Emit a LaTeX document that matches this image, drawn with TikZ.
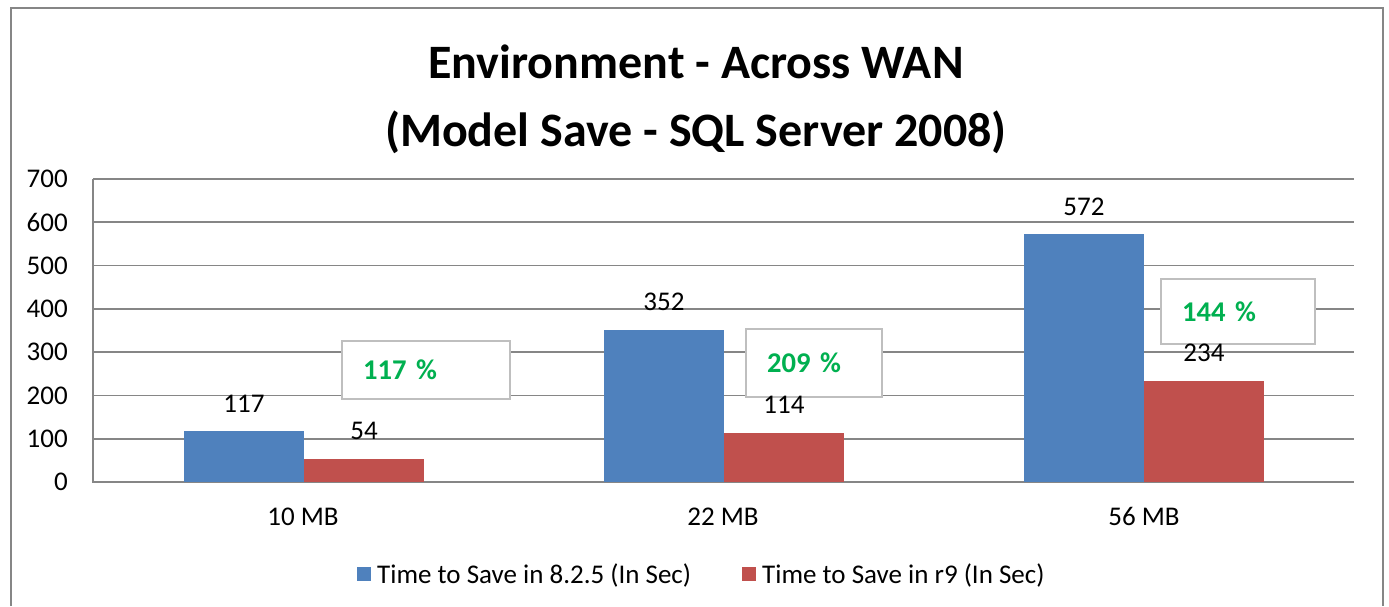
\documentclass[tikz,border=0pt]{standalone}
\usepackage{fontspec}
\setmainfont{Carlito}
\def\ppx{0.43286}
\begin{document}
\begin{tikzpicture}[x=1pt,y=-1pt,
  grid/.style={draw=gridgray,line width=1.6pt},
  vlabel/.style={anchor=base,inner sep=0pt,font=\fontsize{27}{32}\selectfont},
  tlabel/.style={anchor=east,inner sep=0pt,font=\fontsize{27}{32}\selectfont},
  pctbox/.style={anchor=north west,draw=boxgray,line width=2pt,fill=white,
    inner xsep=21pt,inner ysep=0pt,align=left,text=pctgreen,
    font=\bfseries\fontsize{28.6}{34}\selectfont},
  ttl/.style={anchor=base,inner sep=0pt,font=\bfseries\fontsize{48}{57}\selectfont}]
\definecolor{gridgray}{HTML}{868686}
\definecolor{boxgray}{HTML}{BFBFBF}
\definecolor{oldbar}{HTML}{4F81BD}
\definecolor{newbar}{HTML}{C0504D}
\definecolor{pctgreen}{HTML}{00B050}
\useasboundingbox (0,0) rectangle (1389,606);
% chart frame
\draw[gridgray,line width=2.5pt] (11,606) -- (11,8) -- (1383,8) -- (1383,606);
% title
\node[ttl] (title1) at (696,78) {Environment - Across WAN};
\node[ttl] (title2) at (696,146) {(Model Save - SQL Server 2008)};
% gridlines
\draw[grid] (93,{482-100*\ppx}) -- (1354,{482-100*\ppx});
\draw[grid] (93,{482-200*\ppx}) -- (1354,{482-200*\ppx});
\draw[grid] (93,{482-300*\ppx}) -- (1354,{482-300*\ppx});
\draw[grid] (93,{482-400*\ppx}) -- (1354,{482-400*\ppx});
\draw[grid] (93,{482-500*\ppx}) -- (1354,{482-500*\ppx});
\draw[grid] (93,{482-600*\ppx}) -- (1354,{482-600*\ppx});
\draw[grid] (93,{482-700*\ppx}) -- (1354,{482-700*\ppx});
\draw[grid] (93,{482-700*\ppx}) -- (93,482) -- (1354,482);
% y axis labels
\node[tlabel] (y0) at (68,482) {0};
\node[tlabel] (y100) at (68,{482-100*\ppx}) {100};
\node[tlabel] (y200) at (68,{482-200*\ppx}) {200};
\node[tlabel] (y300) at (68,{482-300*\ppx}) {300};
\node[tlabel] (y400) at (68,{482-400*\ppx}) {400};
\node[tlabel] (y500) at (68,{482-500*\ppx}) {500};
\node[tlabel] (y600) at (68,{482-600*\ppx}) {600};
\node[tlabel] (y700) at (68,{482-700*\ppx}) {700};
% bars
\fill[oldbar] (184,482) rectangle (304,{482-117*\ppx});
\fill[newbar] (304,482) rectangle (424,{482-54*\ppx});
\fill[oldbar] (604,482) rectangle (724,{482-352*\ppx});
\fill[newbar] (724,482) rectangle (844,{482-114*\ppx});
\fill[oldbar] (1024,482) rectangle (1144,{482-572*\ppx});
\fill[newbar] (1144,482) rectangle (1264,{482-234*\ppx});
% percentage boxes
\node[pctbox,minimum width=168pt,minimum height=58pt,text width=126pt] (pct1) at (341,340) {117 \%};
\node[pctbox,minimum width=136pt,minimum height=68pt,text width=94pt] (pct2) at (745,328) {209 \%};
\node[pctbox,minimum width=154pt,minimum height=65pt,text width=112pt] (pct3) at (1160,278) {144 \%};
% value labels
\node[vlabel,yshift=19pt] (v117) at (244,{482-117*\ppx}) {117};
\node[vlabel,yshift=19pt] (v54) at (364,{482-54*\ppx}) {54};
\node[vlabel,yshift=19pt] (v352) at (664,{482-352*\ppx}) {352};
\node[vlabel,yshift=19pt] (v114) at (784,{482-114*\ppx}) {114};
\node[vlabel,yshift=19pt] (v572) at (1084,{482-572*\ppx}) {572};
\node[vlabel,yshift=19pt] (v234) at (1204,{482-234*\ppx}) {234};
% category labels
\node[vlabel] (c10) at (303,525) {10 MB};
\node[vlabel] (c22) at (723,525) {22 MB};
\node[vlabel] (c56) at (1144,525) {56 MB};
% legend
\fill[oldbar] (357,567) rectangle (371,581);
\node[vlabel,anchor=base west] (leg1) at (377,583) {Time to Save in 8.2.5 (In Sec)};
\fill[newbar] (742,567) rectangle (756,581);
\node[vlabel,anchor=base west] (leg2) at (762,583) {Time to Save in r9 (In Sec)};
\end{tikzpicture}
\end{document}
